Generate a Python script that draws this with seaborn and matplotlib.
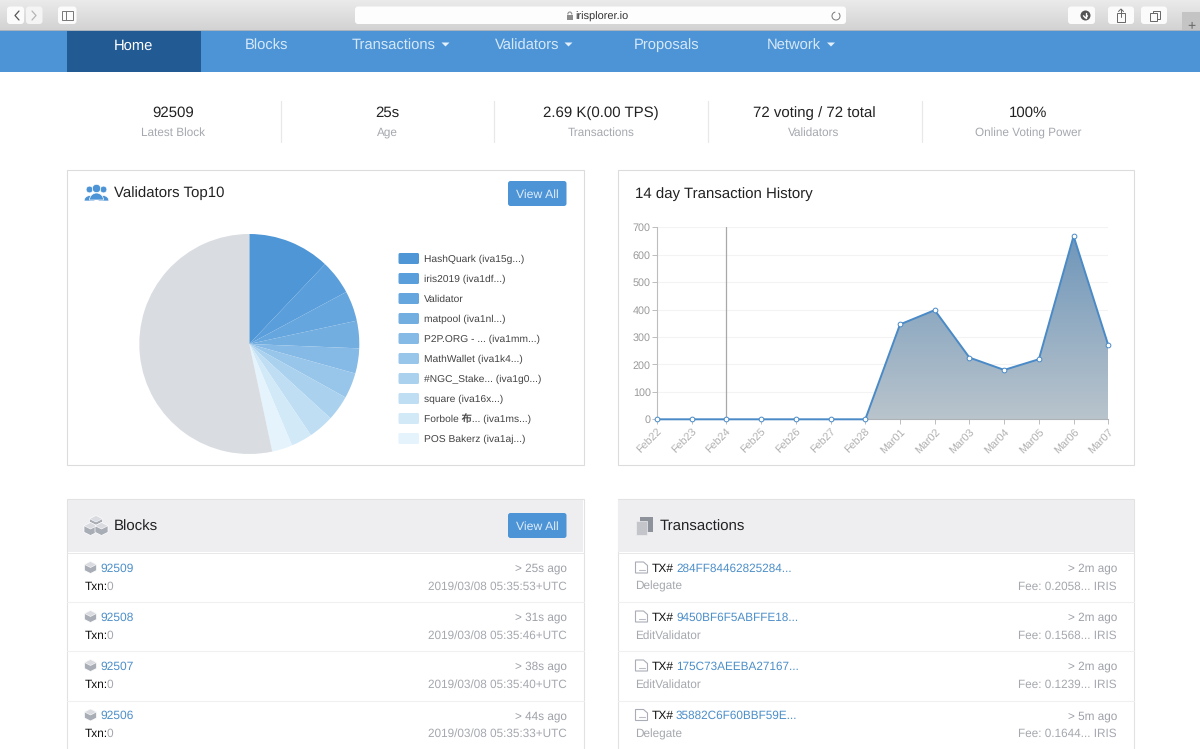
import numpy as np
import pandas as pd
import matplotlib
matplotlib.use("Agg")
import matplotlib.pyplot as plt
from matplotlib.patches import Rectangle, FancyBboxPatch, Polygon, Circle, Wedge, Arc
from matplotlib.colors import LinearSegmentedColormap
import seaborn as sns

# ---------- data ----------
validator_names = ["HashQuark (iva15g...)", "iris2019 (iva1df...)", "Validator", "matpool (iva1nl...)",
                   "P2P.ORG - ... (iva1mm...)", "MathWallet (iva1k4...)", "#NGC_Stake... (iva1g0...)",
                   "square (iva16x...)", "Forbole 布... (iva1ms...)", "POS Bakerz (iva1aj...)"]
validator_shares = [12.08, 5.08, 4.44, 4.03, 3.69, 3.75, 3.72, 3.75, 3.11, 3.00]
others_share = [53.35]
slice_colors = ["#4f96d6", "#5a9edb", "#66a6de", "#73aee1", "#86bae6", "#98c6ea", "#aad2ef", "#bfdef4", "#d2e9f8", "#e4f3fc"]
others_color = ["#d9dce1"]

tx_dates = ["Feb22", "Feb23", "Feb24", "Feb25", "Feb26", "Feb27", "Feb28",
            "Mar01", "Mar02", "Mar03", "Mar04", "Mar05", "Mar06", "Mar07"]
tx_counts = [0, 0, 0, 0, 0, 0, 0, 346, 398, 225, 180, 219, 668, 270]
y_ticks = [0, 100, 200, 300, 400, 500, 600, 700]

nav_items = ["Home", "Blocks", "Transactions", "Validators", "Proposals", "Network"]
stat_values = ["92509", "25s", "2.69 K(0.00 TPS)", "72 voting / 72 total", "100%"]
stat_labels = ["Latest Block", "Age", "Transactions", "Validators", "Online Voting Power"]

block_ids = ["92509", "92508", "92507", "92506"]
block_ages = ["> 25s ago", "> 31s ago", "> 38s ago", "> 44s ago"]
block_times = ["2019/03/08 05:35:53+UTC", "2019/03/08 05:35:46+UTC", "2019/03/08 05:35:40+UTC", "2019/03/08 05:35:33+UTC"]

tx_hashes = ["284FF84462825284...", "9450BF6F5ABFFE18...", "175C73AEEBA27167...", "35882C6F60BBF59E..."]
tx_types = ["Delegate", "EditValidator", "EditValidator", "Delegate"]
tx_ages = ["> 2m ago", "> 2m ago", "> 2m ago", "> 5m ago"]
tx_fees = ["Fee: 0.2058... IRIS", "Fee: 0.1568... IRIS", "Fee: 0.1239... IRIS", "Fee: 0.1644... IRIS"]

# ---------- set-up ----------
sns.set_theme(style="white")
plt.rcParams["font.family"] = ["Liberation Sans", "Noto Sans CJK SC", "DejaVu Sans"]
plt.rcParams["text.hinting"] = "no_hinting"
plt.rcParams["text.hinting_factor"] = 8
W, H = 1200, 749
fig = plt.figure(figsize=(12, 7.49), dpi=100, facecolor="white")
page = fig.add_axes([0, 0, 1, 1], zorder=0)
page.set_xlim(0, W)
page.set_ylim(H, 0)
page.axis("off")
PX = 0.72


def T(x, y, s, px=13, c="#222222", ha="left", **kw):
    page.text(x, y + 0.36 * px, s, fontsize=px * PX, color=c, ha=ha, va="baseline", **kw)


def R(x0, y0, x1, y1, c, ec="none", lw=0, z=1):
    page.add_patch(Rectangle((x0, y0), x1 - x0, y1 - y0, fc=c, ec=ec, lw=lw, zorder=z))


def RR(x0, y0, x1, y1, c, ec="none", r=3, z=2):
    page.add_patch(FancyBboxPatch((x0 + r, y0 + r), x1 - x0 - 2 * r, y1 - y0 - 2 * r,
                                  boxstyle=f"round,pad={r}", fc=c, ec=ec, lw=0.6, zorder=z))


def L(xs, ys, c, lw=1.0, z=3):
    page.plot(xs, ys, color=c, lw=lw, zorder=z, solid_capstyle="round")


def axes_px(x0, y0, x1, y1, **kw):
    return fig.add_axes([x0 / W, 1 - y1 / H, (x1 - x0) / W, (y1 - y0) / H], **kw)


# ---------- browser chrome ----------
chrome = LinearSegmentedColormap.from_list("c", ["#ebebeb", "#d3d3d3"])
page.imshow(np.linspace(0, 1, 32)[:, None], extent=(0, W, 30.5, 0), cmap=chrome, aspect="auto", zorder=0)
page.set_xlim(0, W)
page.set_ylim(H, 0)
R(0, 29.5, W, 31, "#a9b3bd", z=1)
RR(7, 6.5, 24, 24, "#fbfbfb")
RR(26, 6.5, 42.5, 24, "#f4f4f4")
RR(58, 6.5, 76.5, 24, "#fbfbfb")
L([19, 15, 19], [11, 15.5, 20], "#555555", 0.9)
L([32, 36, 32], [11, 15.5, 20], "#b5b5b5", 0.9)
R(62, 11, 73, 20, "none", ec="#777777", lw=0.7, z=3)
L([66, 66], [11, 20], "#777777", 0.7)
RR(355, 6.5, 846, 24, "#fdfdfd")
T(575, 15.5, "irisplorer.io", 11, "#333333", zorder=4)
R(567, 14.5, 572.5, 19.5, "#8c8c8c", z=3)
page.add_patch(Arc((569.8, 14.5), 4, 5, theta1=180, theta2=360, ec="#8c8c8c", lw=0.8, zorder=3))
page.add_patch(Arc((836, 16), 8, 8, theta1=-50, theta2=260, ec="#777777", lw=0.7, zorder=3))
for a, b in [(1068, 1095), (1108, 1134), (1141, 1167)]:
    RR(a, 6.5, b, 24, "#fbfbfb")
page.add_patch(Circle((1085.5, 15.5), 5, fc="#555555", ec="none", zorder=3))
L([1085.5, 1085.5], [12.5, 17.5], "white", 1.0, z=4)
L([1083.5, 1085.5, 1087.5], [15.8, 18, 15.8], "white", 1.0, z=4)
R(1117, 13, 1125, 22, "none", ec="#666666", lw=0.7, z=3)
L([1121, 1121], [9, 17], "#666666", 0.7)
L([1118.5, 1121, 1123.5], [11.5, 9, 11.5], "#666666", 0.7)
R(1150, 13, 1157, 21, "#fbfbfb", ec="#666666", lw=0.7, z=4)
R(1153, 10.5, 1160, 18.5, "#fbfbfb", ec="#666666", lw=0.7, z=3)
R(1182, 12, W, 30, "#c4c4c4", z=1)
T(1191, 24.5, "+", 14, "#666666", ha="center", zorder=4)

# ---------- nav bar ----------
R(0, 31, W, 71.5, "#4d94d6")
R(67, 31, 200.5, 71.5, "#225a94", z=2)
nav_x = [133, 267, 393.5, 527, 667, 794]
for n, x in zip(nav_items, nav_x):
    T(x, 43.8 if n == "Proposals" else 44.5, n, 14.8, "white" if n == "Home" else "#d5e8f8", ha="center", zorder=4)
for x in [445.5, 568.5, 831]:
    page.add_patch(Polygon([(x - 4, 42.5), (x + 4, 42.5), (x, 46.5)], fc="#e4f0fb", ec="none", zorder=4))

# ---------- stats ----------
stat_x = [173, 387, 601, 814, 1028]
for x, v, l in zip(stat_x, stat_values, stat_labels):
    T(x, 111.5, v, 15, "#222222", ha="center")
    T(x, 131.5 if l == "Age" else 132, l, 11.7, "#a5a8ae", ha="center")
for x in [280.5, 494, 707.5, 921.5]:
    L([x, x], [100.5, 141.5], "#e8e8e8", 0.9)

# ---------- cards ----------
for x0, x1 in [(67, 583.7), (617.7, 1134)]:
    R(x0, 170, x1, 464.7, "white", ec="#dcdcdc", lw=0.8)
    R(x0, 499.2, x1, H + 5, "white", ec="#e2e2e2", lw=0.8)
    R(x0 + .5, 499.7, x1 - .5, 552.3, "#eeeef1", z=2)
    L([x0, x1], [552.5, 552.5], "#e8e8ea", 0.7)
    for y in [601.5, 650.5, 700.5]:
        L([x0, x1], [y, y], "#f0f0f0", 0.8)


def button(y0):
    RR(508, y0, 566.5, y0 + 25, "#4d94d6", r=2.5, z=4)
    T(537.2, y0 + 12.5, "View All", 12.2, "#ddecf9", ha="center", zorder=5)


button(181)
button(513)
T(113.5, 191.5, "Validators Top10", 15, "#222222")
T(635, 192.5, "14 day Transaction History", 15, "#222222")
T(113.5, 525, "Blocks", 15, "#222222", zorder=4)
T(660, 525, "Transactions", 15, "#222222", zorder=4)

# people icon
for cx, cy, r, w in [(89.5, 193, 3.4, 5.4), (103.5, 193, 3.4, 5.4), (96.5, 192, 4.2, 7)]:
    page.add_patch(Circle((cx, cy - 3.5), r, fc="#4d94d6", ec="white", lw=0.5, zorder=4))
    page.add_patch(Wedge((cx, cy + 8), w, 180, 360, fc="#4d94d6", ec="white", lw=0.5, zorder=4))


def cube(cx, cy, s, c="#a9adb6"):
    page.add_patch(Polygon([(cx, cy - s), (cx + s, cy - s / 2), (cx + s, cy + s / 2), (cx, cy + s),
                            (cx - s, cy + s / 2), (cx - s, cy - s / 2)], fc=c, ec="white", lw=0.5, zorder=4))
    page.add_patch(Polygon([(cx, cy - s), (cx + s, cy - s / 2), (cx, cy), (cx - s, cy - s / 2)],
                           fc="#d9dbe0", ec="white", lw=0.4, zorder=5))


cube(96, 522, 6.5)
cube(90.5, 529, 6.5)
cube(101.5, 529, 6.5)
R(639.5, 517, 653, 532, "#8e929b", z=4)
R(635.5, 521, 646.5, 534.5, "#c3c5cb", ec="#eeeef1", lw=0.5, z=5)


def doc(x, y):
    page.add_patch(Polygon([(x, y - 5.5), (x + 8, y - 5.5), (x + 12, y - 2), (x + 12, y + 5.5), (x, y + 5.5)],
                           fc="white", ec="#a9adb6", lw=0.8, zorder=4))
    L([x + 3, x + 9], [y + 2, y + 2], "#b9bcc3", 0.8, z=5)


row_y = [567.5, 616.5, 665.5, 715]
sub_y = [585.5, 635, 684, 733]
for i, (y, y2) in enumerate(zip(row_y, sub_y)):
    cube(90.5, y, 6, "#a9adb6")
    T(100.5, y, block_ids[i], 12, "#4d8fc9")
    T(84.5, y2, "Txn:", 11.9, "#111111")
    T(107, y2, "0", 11.9, "#a5a8ae")
    T(566.5, y, block_ages[i], 11.8, "#9ea1a8", ha="right")
    T(566.5, y2, block_times[i], 11.7, "#a5a8ae", ha="right")
    doc(635.5, y)
    T(652, y, "TX#", 12, "#111111")
    T(676, y, tx_hashes[i], 11.7, "#4d8fc9")
    T(635, y2, tx_types[i], 11.7, "#a5a8ae")
    T(1117, y, tx_ages[i], 11.8, "#9ea1a8", ha="right")
    T(1117, y2, tx_fees[i], 11.7, "#a5a8ae", ha="right")

# ---------- pie ----------
pie_ax = axes_px(139.3, 234, 359.3, 454, zorder=3)
pie_ax.patch.set_alpha(0)
pie_ax.pie(validator_shares + others_share, colors=slice_colors + others_color, startangle=90,
           counterclock=False, radius=1, wedgeprops=dict(linewidth=0))
pie_ax.set_xlim(-1, 1)
pie_ax.set_ylim(-1, 1)
pie_ax.set_aspect("equal")

for i, (n, c) in enumerate(zip(validator_names, slice_colors)):
    y = 258.5 + i * 20
    RR(398.5, y - 5.5, 419, y + 5.5, c, r=1.5, z=3)
    T(423.5, y - 0.3, n, 10.2, "#444444", zorder=4)

# ---------- line chart ----------
ax = axes_px(657, 227.3, 1108.3, 419.3, zorder=3)
ax.patch.set_alpha(0)
df = pd.DataFrame({"date": tx_dates, "count": tx_counts})
sns.lineplot(data=df, x="date", y="count", ax=ax, sort=False, color="#4a8ac6", linewidth=1.4,
             marker="o", markersize=3.4, markerfacecolor="white", markeredgecolor="#4a8ac6",
             markeredgewidth=0.7, clip_on=False, zorder=5, errorbar=None)
xpos = np.arange(len(tx_dates))
ax.set_xlim(0, len(tx_dates) - 1)
ax.set_ylim(0, 700)
grad = LinearSegmentedColormap.from_list("g", ["#6f96ba", "#b9c4cc"])
img = ax.imshow(np.linspace(0, 1, 256)[:, None], extent=(0, len(tx_dates) - 1, 0, max(tx_counts)),
                cmap=grad, aspect="auto", zorder=2)
poly = ax.fill_between(xpos, 0, tx_counts, color="none", lw=0)
img.set_clip_path(poly.get_paths()[0], transform=ax.transData)
ax.set_xlim(0, len(tx_dates) - 1)
ax.set_ylim(0, 700)
ax.set_xlabel("")
ax.set_ylabel("")
ax.set_yticks(y_ticks)
ax.set_xticks(xpos)
ax.set_xticklabels(tx_dates)
ax.grid(axis="y", color="#f3f3f3", lw=0.8)
ax.grid(axis="x", visible=False)
ax.set_axisbelow(True)
for s in ["top", "right"]:
    ax.spines[s].set_visible(False)
ax.spines["left"].set_color("#bdbdbd")
ax.spines["bottom"].set_color("#adb2b8")
ax.spines["left"].set_linewidth(0.8)
ax.spines["bottom"].set_linewidth(0.8)
ax.tick_params(axis="y", left=True, length=3.5, width=0.7, color="#bdbdbd", labelcolor="#9a9a9a",
               labelsize=10.8 * PX, pad=1)
ax.tick_params(axis="x", bottom=True, length=3.5, width=0.7, color="#bdbdbd", labelcolor="#b0b0b0",
               labelsize=10.8 * PX, pad=1.5)
for lab in ax.get_xticklabels():
    lab.set_rotation(45)
    lab.set_ha("right")
    lab.set_rotation_mode("anchor")
ax.axvline(tx_dates.index("Feb24"), color="#a8a8a8", lw=0.9, zorder=1)

fig.savefig("out.png", dpi=100, facecolor="white")
